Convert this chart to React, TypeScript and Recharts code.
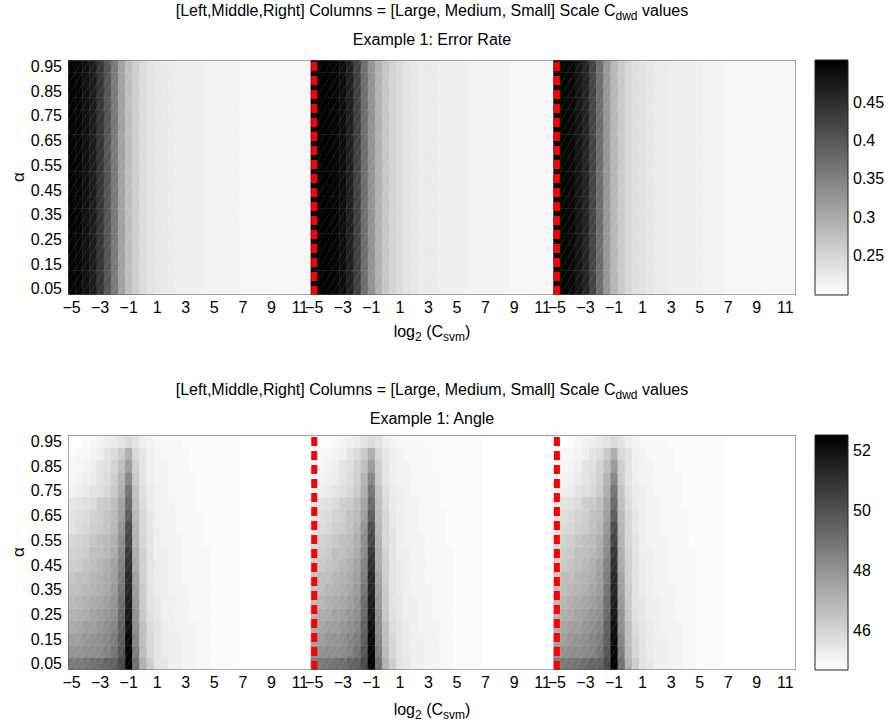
import { ComposedChart, ReferenceArea, Scatter, ScatterChart, XAxis, YAxis } from "recharts";

// log2(C_svm) values of one block of columns, alpha values of the rows
const cSvmCols = [
  -5, -4.5, -4, -3.5, -3, -2.5, -2, -1.5, -1, -0.5, 0, 0.5, 1, 1.5, 2, 2.5, 3, 3.5, 4, 4.5, 5, 5.5, 6, 6.5, 7, 7.5, 8,
  8.5, 9, 9.5, 10, 10.5, 11, 11.5,
];
const alphaRows = [0.05, 0.1, 0.15, 0.2, 0.25, 0.3, 0.35, 0.4, 0.45, 0.5, 0.55, 0.6, 0.65, 0.7, 0.75, 0.8, 0.85, 0.9, 0.95];
const xTickLabels = [-5, -3, -1, 1, 3, 5, 7, 9, 11];
const alphaTicks = [0.05, 0.15, 0.25, 0.35, 0.45, 0.55, 0.65, 0.75, 0.85, 0.95];

// Example 1: error rate, one value per column (columns are flat over alpha)
const errorLarge = [
  0.505, 0.498, 0.486, 0.472, 0.444, 0.403, 0.358, 0.312, 0.277, 0.256, 0.24, 0.233, 0.228, 0.224, 0.222, 0.219, 0.218,
  0.217, 0.216, 0.215, 0.215, 0.214, 0.214, 0.213, 0.209, 0.209, 0.209, 0.208, 0.208, 0.208, 0.208, 0.208, 0.208, 0.208,
];
const errorMedium = [
  0.505, 0.505, 0.503, 0.5, 0.49, 0.465, 0.425, 0.375, 0.33, 0.29, 0.265, 0.25, 0.24, 0.233, 0.228, 0.224, 0.222, 0.22,
  0.219, 0.218, 0.217, 0.216, 0.215, 0.215, 0.212, 0.211, 0.211, 0.211, 0.21, 0.21, 0.21, 0.21, 0.21, 0.21,
];
const errorSmall = [
  0.505, 0.502, 0.495, 0.482, 0.46, 0.42, 0.372, 0.325, 0.287, 0.262, 0.245, 0.236, 0.23, 0.226, 0.223, 0.22, 0.219,
  0.218, 0.217, 0.216, 0.216, 0.215, 0.215, 0.214, 0.21, 0.21, 0.21, 0.209, 0.209, 0.209, 0.209, 0.209, 0.209, 0.209,
];

// Example 1: angle, rows alpha 0.05 -> 0.95, columns log2 C = -5 .. 4.5
const angleRows = [
  [48.8, 48.8, 48.9, 49.0, 49.1, 49.4, 49.5, 50.3, 52.5, 49.0, 47.0, 46.1, 45.6, 45.4, 45.2, 45.2, 45.1, 45.0, 44.9, 44.9],
  [48.0, 48.0, 48.1, 48.2, 48.3, 48.5, 48.9, 49.9, 52.4, 48.6, 46.8, 45.9, 45.6, 45.3, 45.2, 45.2, 45.1, 45.0, 44.9, 44.9],
  [47.6, 47.7, 47.9, 48.0, 48.1, 48.4, 48.7, 49.7, 52.2, 48.4, 46.6, 45.9, 45.5, 45.3, 45.2, 45.2, 45.1, 45.0, 44.9, 44.9],
  [47.3, 47.4, 47.6, 47.7, 47.9, 48.1, 48.4, 49.5, 52.0, 48.2, 46.6, 45.8, 45.5, 45.3, 45.2, 45.1, 45.1, 45.0, 44.9, 44.9],
  [47.0, 47.2, 47.3, 47.5, 47.6, 47.9, 48.2, 49.3, 51.8, 48.0, 46.4, 45.7, 45.4, 45.2, 45.2, 45.1, 45.0, 44.9, 44.9, 44.9],
  [46.8, 46.9, 47.1, 47.3, 47.4, 47.6, 48.0, 49.1, 51.6, 47.8, 46.3, 45.6, 45.4, 45.2, 45.2, 45.1, 45.0, 44.9, 44.9, 44.9],
  [46.6, 46.7, 46.9, 47.0, 47.2, 47.4, 47.8, 48.9, 51.4, 47.7, 46.3, 45.6, 45.3, 45.2, 45.1, 45.0, 45.0, 44.9, 44.9, 44.9],
  [46.4, 46.6, 46.7, 46.9, 47.0, 47.3, 47.6, 48.7, 51.2, 47.5, 46.2, 45.6, 45.3, 45.2, 45.1, 45.0, 44.9, 44.9, 44.9, 44.9],
  [46.2, 46.3, 46.5, 46.7, 46.9, 47.1, 47.5, 48.5, 51.0, 47.3, 46.1, 45.6, 45.3, 45.2, 45.1, 45.0, 44.9, 44.9, 44.9, 44.9],
  [46.0, 46.2, 46.3, 46.6, 46.7, 46.9, 47.3, 48.3, 50.7, 47.2, 46.0, 45.5, 45.2, 45.2, 45.1, 45.0, 44.9, 44.9, 44.9, 44.9],
  [45.9, 46.0, 46.2, 46.4, 46.6, 46.8, 47.2, 48.1, 50.4, 47.0, 45.9, 45.5, 45.2, 45.1, 45.0, 45.0, 44.9, 44.9, 44.9, 44.8],
  [45.6, 45.8, 45.9, 46.1, 46.3, 46.5, 46.9, 47.9, 50.1, 46.9, 45.9, 45.4, 45.2, 45.1, 45.0, 44.9, 44.9, 44.9, 44.9, 44.8],
  [45.5, 45.7, 45.8, 46.0, 46.2, 46.5, 46.8, 47.7, 49.7, 46.8, 45.9, 45.4, 45.2, 45.1, 45.0, 44.9, 44.9, 44.9, 44.9, 44.8],
  [45.4, 45.5, 45.7, 45.8, 46.1, 46.3, 46.7, 47.5, 49.3, 46.6, 45.8, 45.3, 45.2, 45.1, 45.0, 44.9, 44.9, 44.9, 44.8, 44.8],
  [45.1, 45.2, 45.3, 45.5, 45.7, 45.9, 46.3, 47.2, 48.9, 46.5, 45.7, 45.3, 45.2, 45.0, 44.9, 44.9, 44.9, 44.9, 44.8, 44.8],
  [44.9, 45.1, 45.2, 45.3, 45.6, 45.8, 46.2, 47.0, 48.4, 46.3, 45.6, 45.2, 45.1, 45.0, 44.9, 44.9, 44.9, 44.9, 44.8, 44.8],
  [44.9, 44.9, 45.1, 45.2, 45.5, 45.7, 46.0, 46.7, 47.8, 46.2, 45.6, 45.2, 45.1, 45.0, 44.9, 44.9, 44.9, 44.8, 44.8, 44.8],
  [44.8, 44.9, 44.9, 45.1, 45.2, 45.5, 45.8, 46.3, 47.2, 45.9, 45.5, 45.2, 45.0, 44.9, 44.9, 44.9, 44.9, 44.8, 44.8, 44.8],
  [44.7, 44.7, 44.8, 44.9, 45.0, 45.2, 45.3, 45.5, 45.8, 45.5, 45.2, 45.1, 44.9, 44.9, 44.9, 44.9, 44.8, 44.8, 44.8, 44.8],
];
// columns log2 C = 5 .. 11.5, same for every alpha
const angleTail = [44.8, 44.8, 44.8, 44.8, 44.7, 44.7, 44.7, 44.7, 44.7, 44.7, 44.7, 44.7, 44.7, 44.7];

const errorBarTicks = [0.25, 0.3, 0.35, 0.4, 0.45];
const angleBarTicks = [46, 48, 50, 52];
const errorRange = [0.198, 0.505];
const angleRange = [44.67, 52.5];

const FONT = "'Liberation Sans', Arial, sans-serif";
const BLOCK = 17; // width of one column block in x units
const X_DOMAIN = [-0.25, 3 * BLOCK - 0.25];
const Y_DOMAIN = [0.025, 0.975];
const CHART_W = 800;
const CHART_H = 325;
const MARGIN = { top: 60, right: 4, bottom: 0, left: 8 };
const Y_AXIS_W = 60;
const X_AXIS_H = 30;
const PLOT_W = CHART_W - MARGIN.left - MARGIN.right - Y_AXIS_W;
const PLOT_H = CHART_H - MARGIN.top - MARGIN.bottom - X_AXIS_H;
const CELL_W = (PLOT_W / (X_DOMAIN[1] - X_DOMAIN[0])) * 0.5;
const CELL_H = (PLOT_H / (Y_DOMAIN[1] - Y_DOMAIN[0])) * 0.05;

const xTicks = [0, 1, 2].flatMap((b) => xTickLabels.map((v) => b * BLOCK + v + 5));
const fmtX = (x: number) => {
  const v = Math.round(x - BLOCK * Math.floor((x + 0.01) / BLOCK) - 5);
  return v < 0 ? `\u2212${-v}` : `${v}`;
};

type Pt = { x: number; y: number; value: number };

const errorData: Pt[] = [errorLarge, errorMedium, errorSmall].flatMap((block, b) =>
  cSvmCols.flatMap((c, i) => alphaRows.map((a) => ({ x: b * BLOCK + c + 5, y: a, value: block[i] })))
);
const angleData: Pt[] = [0, 1, 2].flatMap((b) =>
  cSvmCols.flatMap((c, i) =>
    alphaRows.map((a, r) => ({ x: b * BLOCK + c + 5, y: a, value: i < 20 ? angleRows[r][i] : angleTail[i - 20] }))
  )
);

// block separators and the axes box, in data units
const separators = [BLOCK, 2 * BLOCK].map((x) => [
  { x, y: Y_DOMAIN[0] },
  { x, y: Y_DOMAIN[1] },
]);
const boxPts = [
  { x: X_DOMAIN[0], y: Y_DOMAIN[0] },
  { x: X_DOMAIN[0], y: Y_DOMAIN[1] },
  { x: X_DOMAIN[1], y: Y_DOMAIN[1] },
  { x: X_DOMAIN[1], y: Y_DOMAIN[0] },
  { x: X_DOMAIN[0], y: Y_DOMAIN[0] },
];

const grayFill = (v: number, range: number[]) => {
  const t = Math.min(1, Math.max(0, (v - range[0]) / (range[1] - range[0])));
  const g = Math.round(255 * (1 - Math.round(t * 63) / 63));
  return `rgb(${g},${g},${g})`;
};

const cellShape = (range: number[]) => (props: any) => {
  const { cx, cy, payload } = props;
  const x0 = cx - CELL_W / 2;
  const y0 = cy - CELL_H / 2;
  return (
    <g>
      <rect x={x0} y={y0} width={CELL_W + 0.4} height={CELL_H + 0.4} fill={grayFill(payload.value, range)} />
      <path
        d={`M${x0},${y0 + CELL_H} L${x0 + CELL_W},${y0} M${x0},${y0} H${x0 + CELL_W}`}
        stroke="#ffffff"
        strokeOpacity={0.17}
        strokeWidth={0.7}
        fill="none"
      />
    </g>
  );
};
const noDot = () => <g />;

const tickStyle = { fontSize: 16, fontFamily: FONT, fill: "#000" };

function Heatmap({ data, range }: { data: Pt[]; range: number[] }) {
  return (
    <ScatterChart width={CHART_W} height={CHART_H} margin={MARGIN}>
      <XAxis
        type="number"
        dataKey="x"
        domain={X_DOMAIN}
        ticks={xTicks}
        interval={0}
        tickFormatter={fmtX}
        height={X_AXIS_H}
        tick={tickStyle}
        tickLine={false}
        tickSize={0}
        tickMargin={7}
        axisLine={false}
        allowDataOverflow
      />
      <YAxis
        type="number"
        dataKey="y"
        domain={Y_DOMAIN}
        ticks={alphaTicks}
        interval={0}
        tickFormatter={(v: number) => v.toFixed(2)}
        width={Y_AXIS_W}
        tick={tickStyle}
        tickLine={false}
        tickSize={0}
        tickMargin={6}
        axisLine={false}
        allowDataOverflow
      />
      <Scatter data={data} shape={cellShape(range)} isAnimationActive={false} />
      {separators.map((pts, i) => (
        <Scatter
          key={i}
          data={pts}
          shape={noDot}
          line={{ stroke: "#ff0000", strokeWidth: 6, strokeDasharray: "9 5" }}
          isAnimationActive={false}
        />
      ))}
      <Scatter data={boxPts} shape={noDot} line={{ stroke: "#555", strokeWidth: 1 }} isAnimationActive={false} />
    </ScatterChart>
  );
}

function ColorBar({ range, ticks, id }: { range: number[]; ticks: number[]; id: string }) {
  return (
    <ComposedChart width={89} height={CHART_H} margin={{ top: 60, right: 0, bottom: X_AXIS_H, left: 15 }}>
      <defs>
        <linearGradient id={id} x1="0" y1="0" x2="0" y2="1">
          <stop offset="0%" stopColor="#000" />
          <stop offset="100%" stopColor="#fff" />
        </linearGradient>
      </defs>
      <XAxis type="number" dataKey="x" domain={[0, 1]} hide />
      <YAxis
        type="number"
        dataKey="y"
        orientation="right"
        domain={range}
        ticks={ticks}
        interval={0}
        width={41}
        tick={tickStyle}
        tickLine={false}
        tickSize={0}
        tickMargin={5}
        axisLine={false}
        allowDataOverflow
      />
      <Scatter
        data={[
          { x: 0, y: range[0] },
          { x: 1, y: range[1] },
        ]}
        shape={noDot}
        isAnimationActive={false}
      />
      <ReferenceArea x1={0} x2={1} y1={range[0]} y2={range[1]} fill={`url(#${id})`} fillOpacity={1} stroke="#222" />
    </ComposedChart>
  );
}

const titleStyle: any = {
  position: "absolute",
  left: 0,
  width: 864,
  textAlign: "center",
  fontFamily: FONT,
  fontSize: 16,
  lineHeight: "18px",
  color: "#000",
  whiteSpace: "nowrap",
};
const sub = { fontSize: 12, verticalAlign: "-4px", lineHeight: 0 };

function Panel({ top, titleTop, labelTop, subtitle, data, range, ticks, id }: any) {
  return (
    <>
      <div style={{ ...titleStyle, top: titleTop }}>
        [Left,Middle,Right] Columns = [Large, Medium, Small] Scale C<span style={sub}>dwd</span> values
      </div>
      <div style={{ ...titleStyle, top: titleTop + 29 }}>{subtitle}</div>
      <div style={{ position: "absolute", left: 0, top }}>
        <Heatmap data={data} range={range} />
      </div>
      <div style={{ position: "absolute", left: 800, top }}>
        <ColorBar range={range} ticks={ticks} id={id} />
      </div>
      <div style={{ ...titleStyle, top: labelTop }}>
        log<span style={sub}>2</span> (C<span style={sub}>svm</span>)
      </div>
      <div
        style={{
          position: "absolute",
          left: 10,
          top: top + 168,
          width: 16,
          height: 18,
          fontFamily: FONT,
          fontSize: 17,
          textAlign: "center",
          transform: "rotate(-90deg)",
        }}
      >
        α
      </div>
    </>
  );
}

export default function App() {
  return (
    <div style={{ position: "absolute", left: 0, top: 0, width: 889, height: 723, background: "#fff" }}>
      <Panel
        top={0}
        titleTop={2}
        labelTop={323}
        subtitle="Example 1: Error Rate"
        data={errorData}
        range={errorRange}
        ticks={errorBarTicks}
        id="gErr"
      />
      <Panel
        top={375}
        titleTop={381}
        labelTop={701}
        subtitle="Example 1: Angle"
        data={angleData}
        range={angleRange}
        ticks={angleBarTicks}
        id="gAng"
      />
    </div>
  );
}
